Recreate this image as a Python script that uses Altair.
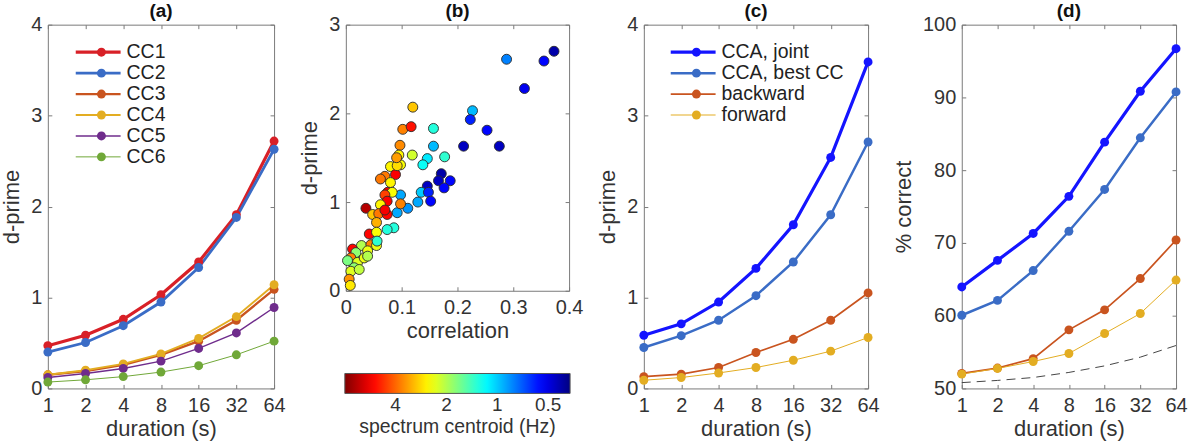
import altair as alt
import pandas as pd

FONT = "Liberation Sans"
TEXT = "#333333"
FRAME = "#7a7a7a"
TICK = 4

durations = [1, 2, 4, 8, 16, 32, 64]

# (a) d-prime of each canonical component vs. segment duration
cc_names = ["CC1", "CC2", "CC3", "CC4", "CC5", "CC6"]
cc1 = [0.47, 0.585, 0.76, 1.03, 1.39, 1.91, 2.72]
cc2 = [0.40, 0.505, 0.69, 0.95, 1.33, 1.88, 2.63]
cc3 = [0.15, 0.19, 0.26, 0.37, 0.52, 0.75, 1.09]
cc4 = [0.15, 0.20, 0.27, 0.38, 0.55, 0.79, 1.14]
cc5 = [0.12, 0.165, 0.22, 0.30, 0.44, 0.61, 0.89]
cc6 = [0.07, 0.095, 0.13, 0.18, 0.25, 0.37, 0.52]
cc_colors = ["#d82027", "#3a6cc6", "#c9541f", "#e3ad22", "#6f2c8c", "#70a838"]
cc_widths = [3.2, 1, 1, 1, 1, 1]

# (b) per-channel correlation vs d-prime, coloured by spectrum centroid (Hz)
sc_corr = [0.288, 0.355, 0.373, 0.320, 0.120, 0.102, 0.117, 0.157, 0.227, 0.223,
           0.253, 0.211, 0.275, 0.157, 0.097, 0.119, 0.177, 0.146, 0.138, 0.171,
           0.166, 0.187, 0.176, 0.146, 0.135, 0.148, 0.152, 0.129, 0.111, 0.092,
           0.098, 0.098, 0.086, 0.074, 0.095, 0.098, 0.080, 0.089, 0.070, 0.062,
           0.080, 0.075, 0.083, 0.070, 0.074, 0.062, 0.036, 0.048, 0.059, 0.074,
           0.070, 0.055, 0.042, 0.055, 0.028, 0.045, 0.055, 0.056, 0.039, 0.012,
           0.018, 0.009, 0.003, 0.021, 0.015, 0.009, 0.024, 0.006, 0.008, 0.033,
           0.039, 0.092, 0.091]
sc_dprime = [2.61, 2.59, 2.70, 2.28, 2.07, 1.82, 1.85, 1.83, 2.03, 1.93,
             1.81, 1.63, 1.63, 1.63, 1.64, 1.53, 1.51, 1.49, 1.42, 1.32,
             1.24, 1.24, 1.16, 1.18, 1.11, 1.11, 1.01, 1.00, 0.93, 0.88,
             1.08, 0.98, 0.71, 0.69, 1.53, 1.42, 1.40, 1.31, 1.29, 1.26,
             1.22, 1.11, 1.11, 1.08, 1.01, 0.97, 0.93, 0.86, 0.87, 0.86,
             0.91, 0.77, 0.64, 0.66, 0.51, 0.52, 0.51, 0.56, 0.45, 0.47,
             0.43, 0.37, 0.34, 0.32, 0.26, 0.22, 0.24, 0.13, 0.06, 0.37,
             0.39, 1.41, 1.50]
sc_centroid = [0.80, 0.55, 0.42, 0.52, 3.0, 3.7, 5.2, 1.30, 0.95, 0.60,
               0.55, 0.45, 0.45, 0.95, 3.6, 2.2, 1.35, 1.10, 1.20, 0.42,
               0.45, 0.55, 0.55, 0.45, 1.00, 0.60, 0.55, 0.90, 0.85, 0.90,
               0.90, 3.7, 1.30, 1.30, 2.6, 2.5, 2.6, 5.5, 3.8, 3.8,
               2.6, 5.5, 2.5, 4.5, 5.5, 2.6, 6.8, 3.0, 3.8, 5.4,
               5.6, 3.2, 5.4, 2.5, 2.0, 3.7, 2.4, 1.35, 2.4, 5.4,
               1.8, 3.7, 1.7, 2.3, 1.8, 2.3, 2.1, 3.5, 2.7, 2.4,
               2.0, 2.8, 3.4]
centroid_ticks = [4, 2, 1, 0.5]
jet_reversed = ["#800000", "#ff0000", "#ff8000", "#ffff00", "#80ff80",
                "#00ffff", "#0080ff", "#0000ff", "#000080"]

# (c) d-prime and (d) percent correct for the four decoders
method_names = ["CCA, joint", "CCA, best CC", "backward", "forward"]
method_colors = ["#1414ff", "#3a6cc6", "#c9541f", "#e3ad22"]
method_widths = [3.2, 1, 1, 1]
dp_joint = [0.585, 0.71, 0.95, 1.32, 1.80, 2.54, 3.59]
dp_best = [0.45, 0.58, 0.75, 1.02, 1.39, 1.91, 2.71]
dp_backward = [0.13, 0.157, 0.23, 0.395, 0.54, 0.75, 1.05]
dp_forward = [0.09, 0.12, 0.17, 0.23, 0.31, 0.41, 0.56]
pc_joint = [63.95, 67.6, 71.3, 76.4, 83.85, 90.85, 96.7]
pc_best = [60.06, 62.1, 66.2, 71.6, 77.35, 84.45, 90.76]
pc_backward = [52.06, 52.8, 54.1, 58.05, 60.8, 65.1, 70.4]
pc_forward = [51.97, 52.75, 53.7, 54.8, 57.55, 60.3, 64.9]
pc_chance = [50.8, 51.1, 51.5, 52.2, 53.1, 54.3, 55.9]


def panel_title(text):
    # the top tick label pokes above the frame; pull the title back down onto it
    return alt.TitleParams(text, fontSize=19, fontWeight="bold", font=FONT,
                           color="#111111", offset=-6)


def inner_ticks(span):
    # grid lines dashed so only a short stub shows at each edge of the frame,
    # giving tick marks that point into the plot on both sides
    return dict(grid=True, gridColor=FRAME, gridWidth=1, gridOpacity=1,
                gridDash=[TICK, span - 2 * TICK])


def long_table(names, series):
    rows = []
    for name, vals in zip(names, series):
        for d, v in zip(durations, vals):
            rows.append({"series": name, "dot": name, "duration": d, "value": v})
    return pd.DataFrame(rows)


def duration_x(height):
    return alt.X("duration:Q",
                 scale=alt.Scale(type="log", base=2, domain=[1, 64], nice=False),
                 axis=alt.Axis(values=durations, format="d", title="duration (s)",
                               **inner_ticks(height)))


def value_y(title, domain, values, width):
    return alt.Y("value:Q", scale=alt.Scale(domain=domain, nice=False, zero=False),
                 axis=alt.Axis(values=values, title=title, **inner_ticks(width)))


def line_panel(df, names, colors, widths, ytitle, ydomain, yvalues, title,
               width, legend_at=None):
    if legend_at is not None:
        lx, ly = legend_at
        common = dict(title=None, orient="none", legendY=ly, clipHeight=20.7,
                      rowPadding=0, padding=0, labelFontSize=19.5,
                      labelFont=FONT, labelColor="#222222")
        # line swatches with labels, and a second legend that puts the
        # marker dots on top of the swatch centres
        line_leg = alt.Legend(legendX=lx, symbolType="M-1,0L1,0", symbolSize=2025,
                              labelOffset=4, **common)
        dot_leg = alt.Legend(legendX=lx + 18, symbolType="circle", symbolSize=80,
                             labelOffset=4, labelExpr="''", **common)
    else:
        line_leg = None
        dot_leg = None
    base = alt.Chart(df).encode(x=duration_x(365),
                                y=value_y(ytitle, ydomain, yvalues, width))
    lines = base.mark_line().encode(
        color=alt.Color("series:N", scale=alt.Scale(domain=names, range=colors),
                        legend=line_leg),
        strokeWidth=alt.StrokeWidth("series:N",
                                    scale=alt.Scale(domain=names, range=widths),
                                    legend=line_leg),
    )
    dots = base.mark_point(filled=True, opacity=1, size=80, shape="circle").encode(
        fill=alt.Fill("dot:N", sort=names, scale=alt.Scale(range=colors),
                      legend=dot_leg),
    )
    return (lines + dots).properties(width=width, height=365,
                                     title=panel_title(title))


panel_a = line_panel(long_table(cc_names, [cc1, cc2, cc3, cc4, cc5, cc6]),
                     cc_names, cc_colors, cc_widths, "d-prime", [0, 4],
                     [0, 1, 2, 3, 4], "(a)", 227, legend_at=(26, 17.3))

scatter_df = pd.DataFrame({"correlation": sc_corr, "dprime": sc_dprime,
                           "centroid": sc_centroid})
panel_b = alt.Chart(scatter_df).transform_calculate(
    tpos="-log(datum.centroid) / log(2)"
).mark_circle(size=100, opacity=1, stroke="#2a2a2a", strokeWidth=0.9).encode(
    x=alt.X("correlation:Q", scale=alt.Scale(domain=[0, 0.4], nice=False),
            axis=alt.Axis(values=[0, 0.1, 0.2, 0.3, 0.4], format="~g",
                          title="correlation", **inner_ticks(267))),
    y=alt.Y("dprime:Q", scale=alt.Scale(domain=[0, 3], nice=False),
            axis=alt.Axis(values=[0, 1, 2, 3], title="d-prime",
                          **inner_ticks(224))),
    color=alt.Color("tpos:Q",
                    scale=alt.Scale(domain=[-3, 1.434], range=jet_reversed,
                                    interpolate="rgb"),
                    legend=alt.Legend(
                        orient="none", legendX=-1, legendY=350,
                        direction="horizontal", gradientLength=226,
                        gradientThickness=20, gradientStrokeColor="#555555",
                        gradientStrokeWidth=1,
                        values=[-2, -1, 0, 1],
                        labelExpr="format(pow(2, -datum.value), '~g')",
                        labelFont=FONT, labelFontSize=19, labelColor=TEXT,
                        labelOffset=3,
                        title="spectrum centroid (Hz)", titleOrient="bottom",
                        titleAnchor="middle", titleFont=FONT, titleFontSize=19.5,
                        titleFontWeight="normal", titleColor=TEXT, titlePadding=3,
                        titleLimit=400, padding=0)),
).properties(width=224, height=267, title=panel_title("(b)"))

panel_c = line_panel(long_table(method_names, [dp_joint, dp_best, dp_backward, dp_forward]),
                     method_names, method_colors, method_widths, "d-prime", [0, 4],
                     [0, 1, 2, 3, 4], "(c)", 225, legend_at=(25, 17.3))

pc_df = long_table(method_names, [pc_joint, pc_best, pc_backward, pc_forward])
chance_df = pd.DataFrame({"duration": durations, "value": pc_chance})
chance = alt.Chart(chance_df).mark_line(color="#444444", strokeWidth=1,
                                        strokeDash=[9, 6]).encode(
    x=duration_x(365),
    y=value_y("% correct", [50, 100], [50, 60, 70, 80, 90, 100], 215))
panel_d = alt.layer(
    chance,
    line_panel(pc_df, method_names, method_colors, method_widths, "% correct",
               [50, 100], [50, 60, 70, 80, 90, 100], "(d)", 215),
).properties(width=215, height=365, title=panel_title("(d)"))

chart = alt.hconcat(panel_a, panel_b, panel_c, panel_d, spacing=12).resolve_scale(
    color="independent", fill="independent", strokeWidth="independent"
).properties(
    padding={"left": 0, "top": 0, "right": 0, "bottom": 0}
).configure_view(
    stroke=FRAME, strokeWidth=1
).configure_axis(
    labelFont=FONT, labelFontSize=20, labelColor=TEXT, labelPadding=6,
    labelFlush=False, titleFont=FONT, titleFontSize=22, titleFontWeight="normal",
    titleColor=TEXT, titlePadding=7, ticks=False, domain=False,
).configure_axisX(labelPadding=7, titlePadding=3)

chart.save("out.html", embed_options={"renderer": "svg", "actions": False})
